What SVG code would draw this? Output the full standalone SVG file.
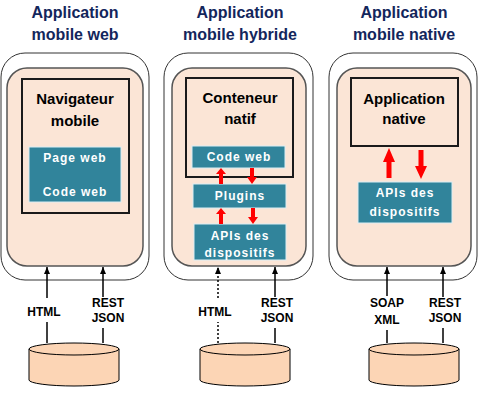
<svg xmlns="http://www.w3.org/2000/svg" width="484" height="400" viewBox="0 0 484 400">
<defs>
<style>
.title{font-family:"Liberation Sans",Arial,sans-serif;font-weight:bold;font-size:16px;fill:#13265c;text-anchor:middle}
.outer{fill:#fff;stroke:#333;stroke-width:1}
.inner{fill:#fbe5d6;stroke:#555;stroke-width:1.5}
.box{fill:none;stroke:#1a1a1a;stroke-width:2}
.boxlbl{font-family:"Liberation Sans",Arial,sans-serif;font-weight:bold;font-size:15px;fill:#000;text-anchor:middle}
.teal{fill:#31849b;stroke:#dbeef3;stroke-width:1}
.tlbl{font-family:"Liberation Sans",Arial,sans-serif;font-weight:bold;font-size:12px;fill:#fff;text-anchor:middle;letter-spacing:1px}
.red{fill:#ff0000}
.conn{stroke:#000;stroke-width:1.5;fill:none}
.dot{stroke-dasharray:2,2}
.lbl{font-family:"Liberation Sans",Arial,sans-serif;font-weight:bold;font-size:12px;fill:#000;text-anchor:middle}
.cyl{fill:#fcd5b5;stroke:#000;stroke-width:1}
</style>
<marker id="ah" markerWidth="8" markerHeight="8" refX="7" refY="4" orient="auto" markerUnits="userSpaceOnUse">
<path d="M0,1 L7,4 L0,7 Z" fill="#000"/>
</marker>
</defs>

<g id="panel-web">
<text class="title" x="75" y="18">Application</text>
<text class="title" x="75" y="40">mobile web</text>
<rect class="outer" x="1" y="53" width="148" height="227" rx="24"/>
<rect class="inner" x="7" y="68" width="136" height="198" rx="20"/>
</g>
<g id="navigateur">
<rect class="box" x="22" y="79" width="107" height="134"/>
<text class="boxlbl" x="75" y="104">Navigateur</text>
<text class="boxlbl" x="75" y="126">mobile</text>
</g>
<g id="page-code-web">
<rect class="teal" x="29" y="147" width="92" height="55"/>
<text class="tlbl" x="75" y="162">Page web</text>
<text class="tlbl" x="75" y="196">Code web</text>
</g>

<g id="panel-hybride">
<text class="title" x="240" y="18">Application</text>
<text class="title" x="240" y="40">mobile hybride</text>
<rect class="outer" x="164" y="53" width="149" height="227" rx="24"/>
<rect class="inner" x="172" y="68" width="134" height="198" rx="20"/>
</g>
<g id="conteneur">
<rect class="box" x="186" y="78" width="107" height="99"/>
<text class="boxlbl" x="240" y="103">Conteneur</text>
<text class="boxlbl" x="240" y="124">natif</text>
</g>
<g id="code-web-h">
<rect class="teal" x="192" y="146" width="93" height="22"/>
<text class="tlbl" x="239" y="161">Code web</text>
</g>
<g id="plugins">
<rect class="teal" x="193" y="184" width="93" height="24"/>
<text class="tlbl" x="240" y="200">Plugins</text>
</g>
<g id="apis-h">
<rect class="teal" x="194" y="224" width="92" height="36"/>
<text class="tlbl" x="240" y="240">APIs des</text>
<text class="tlbl" x="240" y="257">dispositifs</text>
</g>

<g id="panel-native">
<text class="title" x="404" y="18">Application</text>
<text class="title" x="404" y="40">mobile native</text>
<rect class="outer" x="329" y="53" width="148" height="227" rx="24"/>
<rect class="inner" x="337" y="68" width="134" height="198" rx="20"/>
</g>
<g id="app-native">
<rect class="box" x="351" y="78" width="107" height="68"/>
<text class="boxlbl" x="404" y="104">Application</text>
<text class="boxlbl" x="404" y="124">native</text>
</g>
<g id="apis-n">
<rect class="teal" x="358" y="182" width="94" height="41"/>
<text class="tlbl" x="405" y="197">APIs des</text>
<text class="tlbl" x="405" y="216">dispositifs</text>
</g>

<g id="db-web"><path class="cyl" d="M29,349 L29,380 A45,6 0 0 0 119,380 L119,349 Z"/><ellipse class="cyl" cx="74" cy="349" rx="45" ry="6"/></g>
<g id="db-hybride"><path class="cyl" d="M200,349 L200,380 A45,6 0 0 0 290,380 L290,349 Z"/><ellipse class="cyl" cx="245" cy="349" rx="45" ry="6"/></g>
<g id="db-native"><path class="cyl" d="M369,349 L369,380 A45,6 0 0 0 459,380 L459,349 Z"/><ellipse class="cyl" cx="414" cy="349" rx="45" ry="6"/></g>

<g id="connectors">
<polygon class="red" points="219,184 223,184 223,174 226,174 221,168 216,174 219,174"/>
<polygon class="red" points="250,168 254,168 254,177 257,177 252,184 247,177 250,177"/>
<polygon class="red" points="219,224 223,224 223,214 226,214 221,208 216,214 219,214"/>
<polygon class="red" points="251,208 255,208 255,217 258,217 253,224 248,217 251,217"/>
<polygon class="red" points="386.5,178 391.5,178 391.5,162 395,162 389,148 383,162 386.5,162"/>
<polygon class="red" points="418.5,150 423.5,150 423.5,166 427,166 421,179 415,166 418.5,166"/>

<line class="conn" x1="47" y1="298" x2="47" y2="267" marker-end="url(#ah)"/>
<line class="conn" x1="47" y1="343" x2="47" y2="322"/>
<text class="lbl" x="44" y="316">HTML</text>
<line class="conn" x1="103" y1="297" x2="103" y2="267" marker-end="url(#ah)"/>
<line class="conn" x1="103" y1="343" x2="103" y2="328"/>
<text class="lbl" x="108" y="307">REST</text>
<text class="lbl" x="108" y="322">JSON</text>

<line class="conn dot" x1="218" y1="298" x2="218" y2="267" marker-end="url(#ah)"/>
<line class="conn dot" x1="218" y1="343" x2="218" y2="322"/>
<text class="lbl" x="215" y="316">HTML</text>
<line class="conn" x1="275" y1="297" x2="275" y2="267" marker-end="url(#ah)"/>
<line class="conn" x1="275" y1="343" x2="275" y2="328"/>
<text class="lbl" x="277" y="307">REST</text>
<text class="lbl" x="277" y="322">JSON</text>

<line class="conn" x1="387" y1="296" x2="387" y2="267" marker-end="url(#ah)"/>
<line class="conn" x1="387" y1="343" x2="387" y2="330"/>
<text class="lbl" x="387" y="307">SOAP</text>
<text class="lbl" x="387" y="324">XML</text>
<line class="conn" x1="443" y1="297" x2="443" y2="267" marker-end="url(#ah)"/>
<line class="conn" x1="443" y1="343" x2="443" y2="328"/>
<text class="lbl" x="445" y="307">REST</text>
<text class="lbl" x="445" y="322">JSON</text>
</g>
</svg>
